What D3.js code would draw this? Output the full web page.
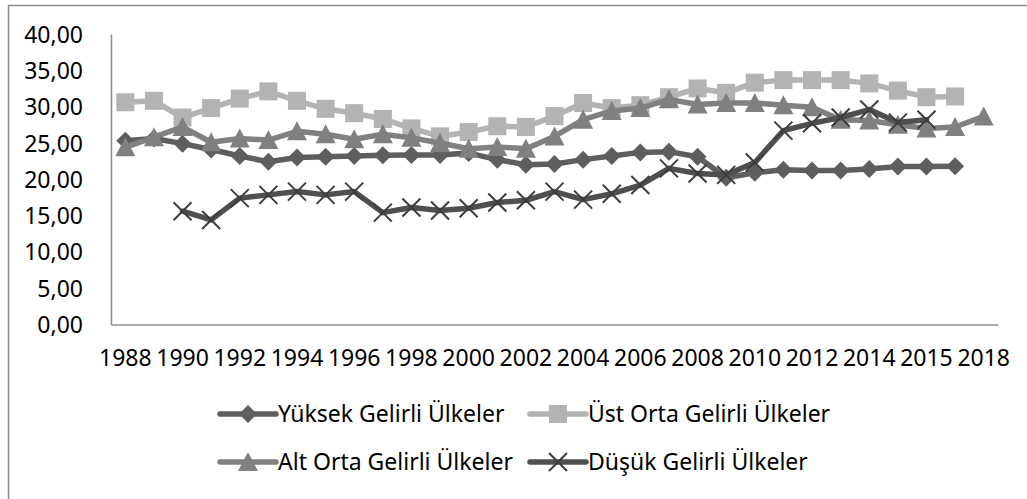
<!DOCTYPE html>
<html>
<head>
<meta charset="utf-8">
<script src="https://cdn.jsdelivr.net/npm/d3@7"></script>
<style>
  body { margin: 0; background: #fff; }
  text { font-family: "Noto Sans", "Open Sans", sans-serif; fill: #000; }
</style>
</head>
<body>
<div id="root"></div>
<script>
// category labels (only every other one is shown on the axis)
const years = [
  "1988", "1989", "1990", "1991", "1992", "1993", "1994", "1995", "1996", "1997",
  "1998", "1999", "2000", "2001", "2002", "2003", "2004", "2005", "2006", "2007",
  "2008", "2009", "2010", "2011", "2012", "2013", "2014", "2014", "2015", "2017", "2018"
];
const yTicks = [0, 5, 10, 15, 20, 25, 30, 35, 40];

const yuksek = [25.3, 25.6, 24.9, 24.1, 23.2, 22.4, 23.0, 23.1, 23.2, 23.3,
  23.35, 23.35, 23.6, 22.7, 22.0, 22.1, 22.7, 23.2, 23.7, 23.8,
  23.1, 20.2, 20.9, 21.3, 21.2, 21.2, 21.4, 21.75, 21.75, 21.8, null];
const ustOrta = [30.6, 30.8, 28.5, 29.8, 31.1, 32.1, 30.8, 29.7, 29.1, 28.3,
  27.0, 25.9, 26.5, 27.3, 27.2, 28.7, 30.5, 29.8, 30.2, 31.3,
  32.5, 31.9, 33.3, 33.65, 33.65, 33.65, 33.2, 32.2, 31.3, 31.4, null];
const altOrta = [24.4, 25.8, 27.2, 25.1, 25.6, 25.4, 26.6, 26.2, 25.5, 26.2,
  25.7, 25.0, 24.2, 24.45, 24.2, 25.9, 28.2, 29.4, 29.8, 31.0,
  30.3, 30.5, 30.5, 30.2, 29.9, 28.2, 28.1, 27.5, 27.0, 27.2, 28.65];
const dusuk = [null, null, 15.6, 14.4, 17.4, 17.85, 18.3, 17.85, 18.3, 15.4,
  16.1, 15.7, 16.0, 16.8, 17.1, 18.3, 17.2, 18.0, 19.2, 21.5,
  20.8, 20.6, 22.3, 26.7, 27.7, 28.5, 29.6, 27.8, 28.2, null, null];

const seriesNames = ["Yüksek Gelirli Ülkeler", "Üst Orta Gelirli Ülkeler",
  "Alt Orta Gelirli Ülkeler", "Düşük Gelirli Ülkeler"];

let series = [
  { name: seriesNames[0], values: yuksek, color: "#5e5e5e", marker: "diamond" },
  { name: seriesNames[1], values: ustOrta, color: "#b3b3b3", marker: "square" },
  { name: seriesNames[2], values: altOrta, color: "#808080", marker: "triangle" },
  { name: seriesNames[3], values: dusuk, color: "#4f4f4f", marker: "cross" }
];

let width = 1027,
  height = 499,
  fontSize = "23px";
let plot = { left: 111, right: 998, top: 34, bottom: 324.5 };

let svg = d3.select("#root").append("svg")
  .attr("width", width)
  .attr("height", height);

// outer chart border
svg.append("rect")
  .attr("x", 8.5).attr("y", 5.5)
  .attr("width", width + 10).attr("height", height + 10)
  .attr("fill", "none")
  .attr("stroke", "#8a8a8a")
  .attr("stroke-width", 1.5);

let x = d3.scaleBand()
  .domain(d3.range(years.length))
  .range([plot.left, plot.right]);
let y = d3.scaleLinear()
  .domain([0, 40])
  .range([plot.bottom, plot.top]);

let cx = i => x(i) + x.bandwidth() / 2;

// y axis
let yAxis = svg.append("g")
  .attr("transform", `translate(${plot.left},0)`)
  .call(d3.axisLeft(y).tickValues(yTicks).tickSize(0).tickPadding(28)
    .tickFormat(d => d3.format(".2f")(d).replace(".", ",")));
yAxis.select(".domain").attr("stroke", "#8c8c8c").attr("stroke-width", 1.5);
yAxis.selectAll("text").style("font-size", fontSize).attr("dy", "0.35em");

// x axis
let xAxis = svg.append("g")
  .attr("transform", `translate(0,${plot.bottom})`)
  .call(d3.axisBottom(x).tickSize(0).tickPadding(25)
    .tickFormat((d, i) => (i % 2 === 0 ? years[i] : "")));
xAxis.select(".domain").attr("stroke", "#8c8c8c").attr("stroke-width", 1.5);
xAxis.selectAll("text").style("font-size", fontSize);

function drawMarker(g, type, color, px, py) {
  if (type === "diamond") {
    g.append("path")
      .attr("d", `M${px},${py - 9}L${px + 9},${py}L${px},${py + 9}L${px - 9},${py}Z`)
      .attr("fill", color);
  } else if (type === "square") {
    g.append("rect")
      .attr("x", px - 9).attr("y", py - 9)
      .attr("width", 18).attr("height", 18)
      .attr("fill", color);
  } else if (type === "triangle") {
    g.append("path")
      .attr("d", `M${px},${py - 10}L${px + 10},${py + 9}L${px - 10},${py + 9}Z`)
      .attr("fill", color);
  } else {
    g.append("path")
      .attr("d", `M${px - 9},${py - 9}L${px + 9},${py + 9}M${px - 9},${py + 9}L${px + 9},${py - 9}`)
      .attr("stroke", "#3d3d3d")
      .attr("stroke-width", 2);
  }
}

let line = d3.line()
  .defined(d => d !== null)
  .x((d, i) => cx(i))
  .y(d => y(d));

series.forEach(s => {
  let g = svg.append("g");
  g.append("path")
    .datum(s.values)
    .attr("d", line)
    .attr("fill", "none")
    .attr("stroke", s.color)
    .attr("stroke-width", 5.5)
    .attr("stroke-linejoin", "round")
    .attr("stroke-linecap", "round");
  s.values.forEach((v, i) => {
    if (v !== null) drawMarker(g, s.marker, s.color, cx(i), y(v));
  });
});

// legend, two rows of two
let legendCols = [220, 530],
  legendRows = [414, 462];
series.forEach((s, i) => {
  let lx = legendCols[i % 2],
    ly = legendRows[Math.floor(i / 2)];
  let g = svg.append("g");
  g.append("line")
    .attr("x1", lx).attr("x2", lx + 56)
    .attr("y1", ly).attr("y2", ly)
    .attr("stroke", s.color)
    .attr("stroke-width", 5.5)
    .attr("stroke-linecap", "round");
  drawMarker(g, s.marker, s.color, lx + 28, ly);
  g.append("text")
    .attr("x", lx + 58)
    .attr("y", ly)
    .attr("dy", "0.35em")
    .style("font-size", fontSize)
    .text(s.name);
});
</script>
</body>
</html>
